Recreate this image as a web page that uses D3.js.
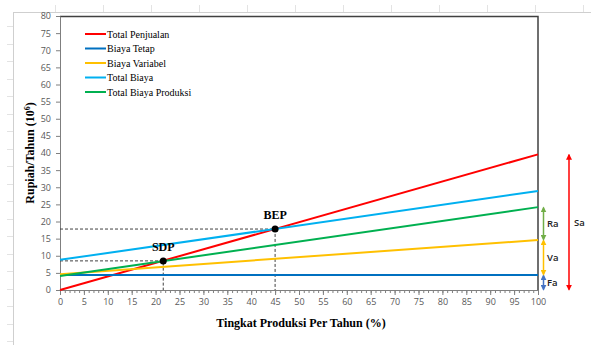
<!DOCTYPE html>
<html>
<head>
  <meta charset="utf-8">
  <title>BEP</title>
  <script src="https://cdn.jsdelivr.net/npm/d3@7"></script>
  <style>
    body { margin: 0; background: #fff; overflow: hidden; }
    svg { display: block; }
  </style>
</head>
<body>
  <svg width="591" height="345" id="mainsvg"></svg>
  <script>
    // data
    const xValues = [0, 100];
    const seriesNames = ['Total Penjualan', 'Biaya Tetap', 'Biaya Variabel', 'Total Biaya', 'Total Biaya Produksi'];
    const seriesColors = ['#ff0000', '#0070c0', '#ffc000', '#00b0f0', '#00b050'];
    const totalPenjualan = [0, 39.6];
    const biayaTetap = [4.4, 4.4];
    const biayaVariabel = [4.6, 14.6];
    const totalBiaya = [8.8, 28.9];
    const totalBiayaProduksi = [4.1, 24.2];
    const seriesValues = [totalPenjualan, biayaTetap, biayaVariabel, totalBiaya, totalBiayaProduksi];
    const xTicks = d3.range(0, 101, 5);
    const yTicks = d3.range(0, 81, 5);
    const points = [{ name: 'BEP', x: 45, y: 17.8 }, { name: 'SDP', x: 21.6, y: 8.5 }];
    // bracket annotations at x = 100
    const brackets = [
      { name: 'Fa', from: 0, to: 4.4, color: '#4472c4' },
      { name: 'Va', from: 4.4, to: 14.6, color: '#ffc000' },
      { name: 'Ra', from: 14.6, to: 24.2, color: '#70ad47' }
    ];
    const total = { name: 'Sa', from: 0, to: 39.6, color: '#ff0000' };

    const svg = d3.select('#mainsvg');
    const margin = { top: 16, left: 60, right: 53, bottom: 55 };
    const width = +svg.attr('width'), height = +svg.attr('height');
    const innerWidth = width - margin.left - margin.right;
    const innerHeight = height - margin.top - margin.bottom;

    // faint spreadsheet grid behind the chart
    const grid = svg.append('g').attr('stroke', '#e3e3e3').attr('stroke-width', 1);
    grid.append('line').attr('x1', 13).attr('x2', width).attr('y1', 12.5).attr('y2', 12.5).attr('stroke', '#cfcfcf');
    grid.append('line').attr('x1', 13.5).attr('x2', 13.5).attr('y1', 12).attr('y2', height).attr('stroke', '#cfcfcf');
    d3.range(55, width, 48).forEach(x => {
      grid.append('line').attr('x1', x + 0.5).attr('x2', x + 0.5).attr('y1', 5).attr('y2', 12);
    });
    d3.range(26, height, 17.5).forEach(y => {
      grid.append('line').attr('x1', 7).attr('x2', 13).attr('y1', Math.round(y) + 0.5).attr('y2', Math.round(y) + 0.5);
    });

    const g = svg.append('g').attr('transform', `translate(${margin.left}, ${margin.top})`);

    const xScale = d3.scaleLinear().domain([0, 100]).range([0, innerWidth]);
    const yScale = d3.scaleLinear().domain([0, 80]).range([innerHeight, 0]);

    // plot area border (top and right)
    g.append('path')
      .attr('d', `M0,0.5H${innerWidth}V${innerHeight}`)
      .attr('fill', 'none').attr('stroke', '#404040').attr('stroke-width', 1.5);

    // minor x ticks
    const xMinor = g.append('g').attr('transform', `translate(0, ${innerHeight})`)
      .call(d3.axisBottom(xScale).tickValues(d3.range(0, 101, 1)).tickSize(3));
    xMinor.select('.domain').remove();
    xMinor.selectAll('text').remove();
    xMinor.selectAll('line').attr('stroke', '#7f7f7f');

    const xAxis = g.append('g').attr('transform', `translate(0, ${innerHeight})`)
      .call(d3.axisBottom(xScale).tickValues(xTicks).tickSize(5).tickSizeOuter(0).tickPadding(4));
    xAxis.select('.domain').attr('stroke', '#7f7f7f');
    xAxis.selectAll('line').attr('stroke', '#7f7f7f');
    xAxis.selectAll('text').attr('fill', '#595959').attr('font-size', 9).attr('font-family', 'Open Sans, sans-serif');

    const yAxis = g.append('g')
      .call(d3.axisLeft(yScale).tickValues(yTicks).tickSize(4).tickSizeOuter(0).tickPadding(5));
    yAxis.select('.domain').attr('stroke', '#7f7f7f');
    yAxis.selectAll('line').attr('stroke', '#7f7f7f');
    yAxis.selectAll('text').attr('fill', '#595959').attr('font-size', 9).attr('font-family', 'Open Sans, sans-serif');

    // dashed guides to BEP / SDP
    points.forEach(p => {
      g.append('path')
        .attr('d', `M0,${yScale(p.y)}H${xScale(p.x)}V${innerHeight}`)
        .attr('fill', 'none').attr('stroke', '#404040').attr('stroke-width', 1)
        .attr('stroke-dasharray', '3,2');
    });

    // series lines
    const line = d3.line().x((d, i) => xScale(xValues[i])).y(d => yScale(d));
    seriesValues.forEach((vals, i) => {
      g.append('path').datum(vals)
        .attr('d', line)
        .attr('fill', 'none')
        .attr('stroke', seriesColors[i])
        .attr('stroke-width', 2);
    });

    // points and labels
    points.forEach(p => {
      g.append('circle').attr('cx', xScale(p.x)).attr('cy', yScale(p.y)).attr('r', 3.5).attr('fill', '#000');
      g.append('text').text(p.name)
        .attr('x', xScale(p.x)).attr('y', yScale(p.y) - 10)
        .attr('text-anchor', 'middle')
        .attr('font-family', 'Liberation Serif, serif').attr('font-weight', 'bold').attr('font-size', 12);
    });

    // legend
    const legend = g.append('g').attr('transform', 'translate(25, 18)');
    seriesNames.forEach((name, i) => {
      const row = legend.append('g').attr('transform', `translate(0, ${i * 14.5})`);
      row.append('line').attr('x1', 0).attr('x2', 21).attr('y1', 0).attr('y2', 0)
        .attr('stroke', seriesColors[i]).attr('stroke-width', 2);
      row.append('text').text(name).attr('x', 22).attr('y', 3.5)
        .attr('font-family', 'Liberation Serif, serif').attr('font-size', 10).attr('fill', '#000');
    });

    // arrows
    const defs = svg.append('defs');
    const allBrackets = brackets.concat([total]);
    allBrackets.forEach((b, i) => {
      defs.append('marker').attr('id', 'arr' + i)
        .attr('viewBox', '0 0 10 10').attr('refX', 8).attr('refY', 5)
        .attr('markerWidth', 6).attr('markerHeight', 6)
        .attr('markerUnits', 'userSpaceOnUse')
        .attr('orient', 'auto-start-reverse')
        .append('path').attr('d', 'M0,0L10,5L0,10z').attr('fill', b.color);
    });
    const drawArrow = (b, i, x, labelX) => {
      g.append('line')
        .attr('x1', x).attr('x2', x)
        .attr('y1', yScale(b.from) - 0.5).attr('y2', yScale(b.to) + 0.5)
        .attr('stroke', b.color).attr('stroke-width', 1.5)
        .attr('marker-start', `url(#arr${i})`).attr('marker-end', `url(#arr${i})`);
      g.append('text').text(b.name)
        .attr('x', labelX).attr('y', (yScale(b.from) + yScale(b.to)) / 2 + 3.5)
        .attr('font-family', 'Open Sans, sans-serif').attr('font-weight', 600)
        .attr('font-size', 9.5).attr('fill', '#222');
    };
    brackets.forEach((b, i) => drawArrow(b, i, innerWidth + 5.5, innerWidth + 9));
    drawArrow(total, brackets.length, innerWidth + 31, innerWidth + 36);

    // axis titles
    g.append('text').text('Tingkat Produksi Per Tahun (%)')
      .attr('x', 241).attr('y', innerHeight + 37)
      .attr('text-anchor', 'middle')
      .attr('font-family', 'Liberation Serif, serif').attr('font-weight', 'bold').attr('font-size', 12);

    const yTitle = g.append('text')
      .attr('transform', `translate(-26, ${innerHeight / 2}) rotate(-90)`)
      .attr('text-anchor', 'middle')
      .attr('font-family', 'Liberation Serif, serif').attr('font-weight', 'bold').attr('font-size', 12);
    yTitle.append('tspan').text('Rupiah/Tahun (10');
    yTitle.append('tspan').text('6').attr('font-size', 8).attr('baseline-shift', 'super');
    yTitle.append('tspan').text(')');
  </script>
</body>
</html>
